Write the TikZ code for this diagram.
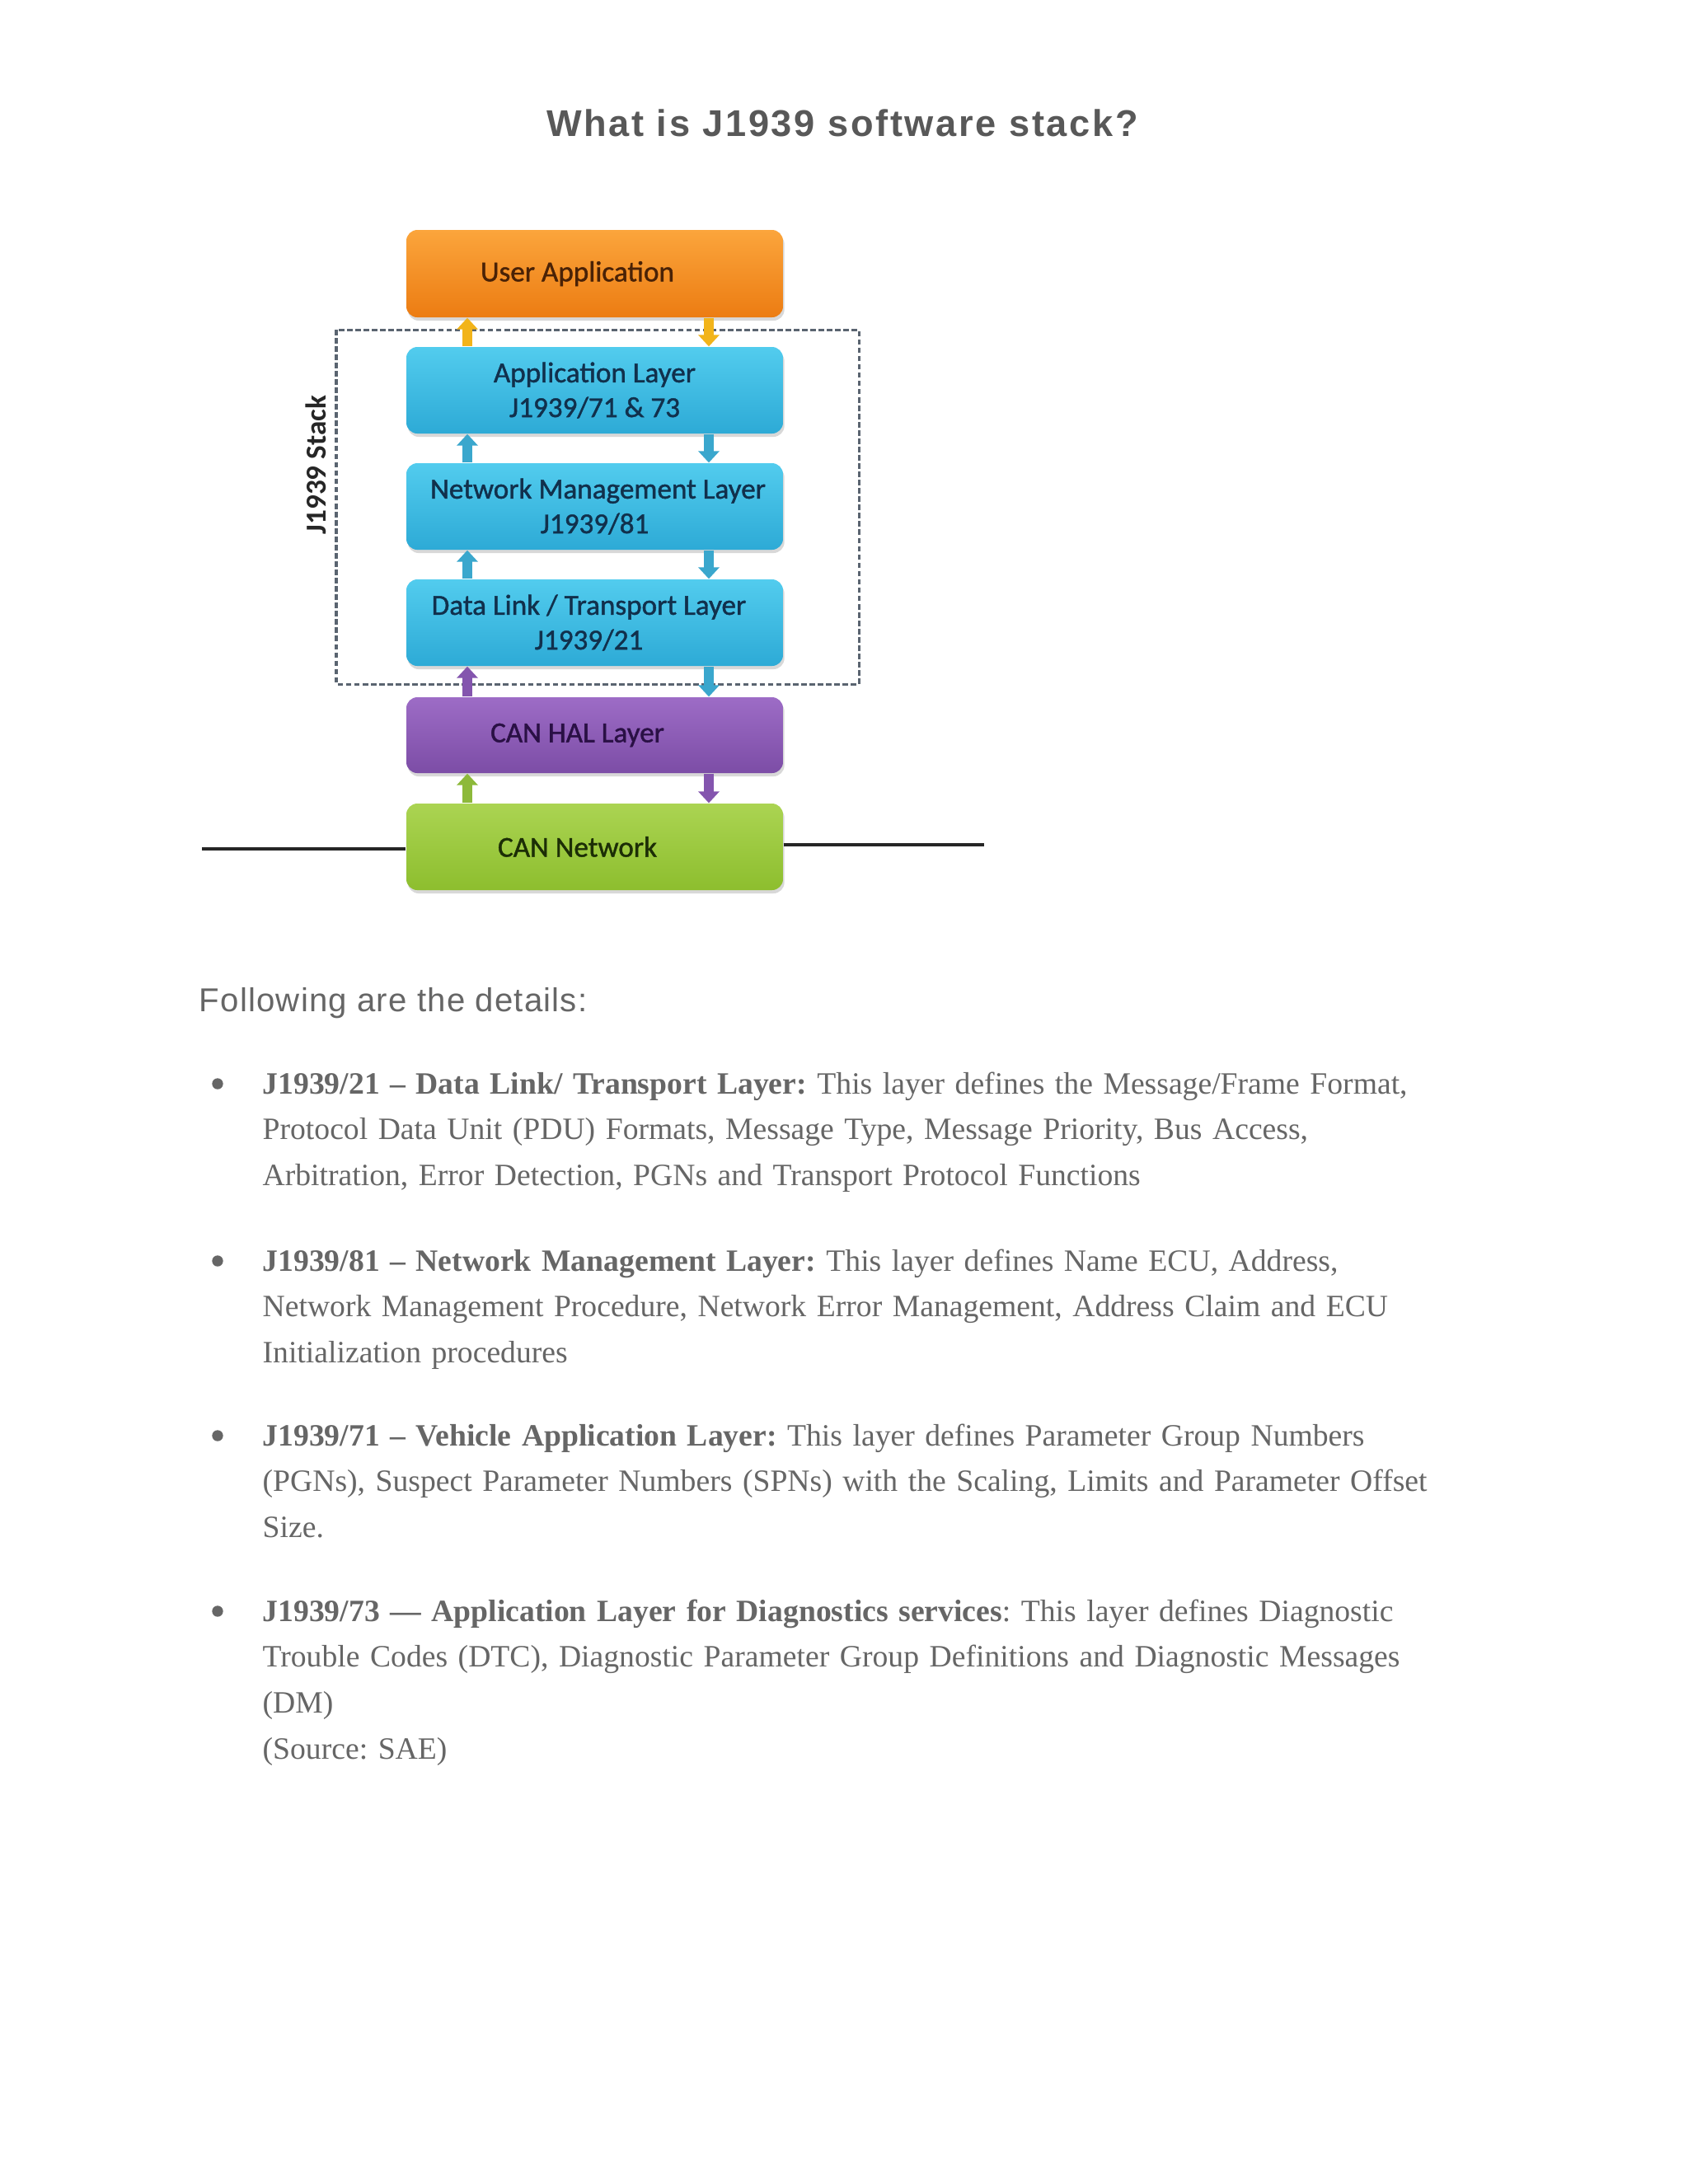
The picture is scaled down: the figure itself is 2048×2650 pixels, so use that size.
\documentclass[tikz,border=0pt]{standalone}
\usepackage{fontspec}
\setmainfont{Liberation Serif}
\newfontfamily\titlefont[LetterSpace=6]{Liberation Sans}
\newfontfamily\detailfont[LetterSpace=3]{Liberation Sans}
\newfontfamily\calibrifont[FakeBold=1.2]{Carlito}
\newfontfamily\stackfont{Carlito}
\usepackage{tikz}
\usetikzlibrary{arrows.meta,%
                shadows,positioning}

\definecolor{textgray}{HTML}{666666}
\definecolor{titlegray}{HTML}{585858}
\definecolor{uatop}{HTML}{FBA53C}
\definecolor{uabot}{HTML}{EC7C12}
\definecolor{uatext}{HTML}{4A2206}
\definecolor{bluetop}{HTML}{52CCEE}
\definecolor{bluebot}{HTML}{2DAAD6}
\definecolor{bluetext}{HTML}{11304C}
\definecolor{haltop}{HTML}{9D6CC6}
\definecolor{halbot}{HTML}{7C4DA6}
\definecolor{haltext}{HTML}{2A1045}
\definecolor{cantop}{HTML}{ABD452}
\definecolor{canbot}{HTML}{8DBE2E}
\definecolor{cantext}{HTML}{1C2E06}
\definecolor{arryel}{HTML}{F2B41A}
\definecolor{arrblue}{HTML}{3AA7CD}
\definecolor{arrpurp}{HTML}{8455AE}
\definecolor{arrgreen}{HTML}{8DB93A}
\definecolor{stackline}{HTML}{5A6470}

\newdimen\px \px=0.29883pt

\begin{document}
\begin{tikzpicture}[x=1\px,y=-1\px,
  layer/.style={rounded corners=4pt, minimum width=457\px, inner sep=0pt,
    align=center, font=\calibrifont\fontsize{10.5}{12.6}\selectfont,
    drop shadow={shadow xshift=0.5pt,shadow yshift=-1.2pt,opacity=0.3}},
  uabox/.style={layer, top color=uatop, bottom color=uabot, text=uatext},
  bluebox/.style={layer, top color=bluetop, bottom color=bluebot, text=bluetext},
  halbox/.style={layer, top color=haltop, bottom color=halbot, text=haltext},
  canbox/.style={layer, top color=cantop, bottom color=canbot, text=cantext},
  flow/.style={line width=3.8pt, -{Triangle[width=7.5pt,length=4.2pt]}},
  bus/.style={line width=1pt, draw=black!85},
  item/.style={anchor=base west, text width=1650\px, align=left, inner sep=0pt,
    font=\fontsize{11.25}{16.7}\selectfont\frenchspacing, text=textgray},
  dot/.style={circle, fill=textgray, minimum size=4pt, inner sep=0pt}]

\useasboundingbox[fill=white] (0,0) rectangle (2048,2650);

\node[font=\titlefont\bfseries\fontsize{13.5}{16}\selectfont, text=titlegray]
  (title) at (1022,149) {What is J1939 software stack?};

\draw[stackline, line width=0.9pt, dash pattern=on 2pt off 1pt] (408,400) rectangle (1042,830);
\node[rotate=90, font=\stackfont\bfseries\fontsize{10.5}{12}\selectfont, text=black!85]
  (stack) at (383,564) {J1939 Stack};

\node[uabox, minimum height=106\px] (ua) at (721.5,332) {\hspace*{-42\px}User Application};
\node[bluebox, minimum height=105\px] (app) at (721.5,473.5) {Application Layer\\J1939/71 \& 73};
\node[bluebox, minimum height=105\px] (nm) at (721.5,614.5) {\hspace*{8\px}Network Management Layer\\J1939/81};
\node[bluebox, minimum height=105\px] (dl) at (721.5,755.5) {\hspace*{-14\px}Data Link / Transport Layer\\\hspace*{-14\px}J1939/21};
\node[halbox, minimum height=92\px] (hal) at (721.5,892) {\hspace*{-42\px}CAN HAL Layer};
\node[canbox, minimum height=105\px] (can) at (721.5,1027.5) {\hspace*{-42\px}CAN Network};

\coordinate (upx) at (567,0);
\coordinate (dnx) at (860,0);
\draw[flow, arryel] (app.north -| upx) -- (ua.south -| upx);
\draw[flow, arryel] (ua.south -| dnx) -- (app.north -| dnx);
\draw[flow, arrblue] (nm.north -| upx) -- (app.south -| upx);
\draw[flow, arrblue] (app.south -| dnx) -- (nm.north -| dnx);
\draw[flow, arrblue] (dl.north -| upx) -- (nm.south -| upx);
\draw[flow, arrblue] (nm.south -| dnx) -- (dl.north -| dnx);
\draw[flow, arrpurp] (hal.north -| upx) -- (dl.south -| upx);
\draw[flow, arrblue] (dl.south -| dnx) -- (hal.north -| dnx);
\draw[flow, arrgreen] (can.north -| upx) -- (hal.south -| upx);
\draw[flow, arrpurp] (hal.south -| dnx) -- (can.north -| dnx);

\coordinate (busl) at (245,1030);
\coordinate (busr) at (1194,1025);
\draw[bus] (busl) -- (busl -| can.west);
\draw[bus] (can.east |- busr) -- (busr);

\node[anchor=base west, font=\detailfont\fontsize{12}{14}\selectfont, text=textgray]
  (follow) at (230,1227) {Following are the details:};

\node[dot] (b21) at (264,1315) {};
\node[item] (d21) at (318,1327) {\textbf{J1939/21 – Data Link/ Transport Layer:} This layer defines the Message/Frame Format,\\
Protocol Data Unit (PDU) Formats, Message Type, Message Priority, Bus Access,\\
Arbitration, Error Detection, PGNs and Transport Protocol Functions};

\node[dot] (b81) at (264,1530) {};
\node[item] (d81) at (318,1542) {\textbf{J1939/81 – Network Management Layer:} This layer defines Name ECU, Address,\\
Network Management Procedure, Network Error Management, Address Claim and ECU\\
Initialization procedures};

\node[dot] (b71) at (264,1742) {};
\node[item] (d71) at (318,1754) {\textbf{J1939/71 – Vehicle Application Layer:} This layer defines Parameter Group Numbers\\
(PGNs), Suspect Parameter Numbers (SPNs) with the Scaling, Limits and Parameter Offset\\
Size.};

\node[dot] (b73) at (264,1955) {};
\node[item] (d73) at (318,1967) {\textbf{J1939/73 — Application Layer for Diagnostics services}: This layer defines Diagnostic\\
Trouble Codes (DTC), Diagnostic Parameter Group Definitions and Diagnostic Messages\\
(DM)\\
(Source: SAE)};

\end{tikzpicture}
\end{document}
